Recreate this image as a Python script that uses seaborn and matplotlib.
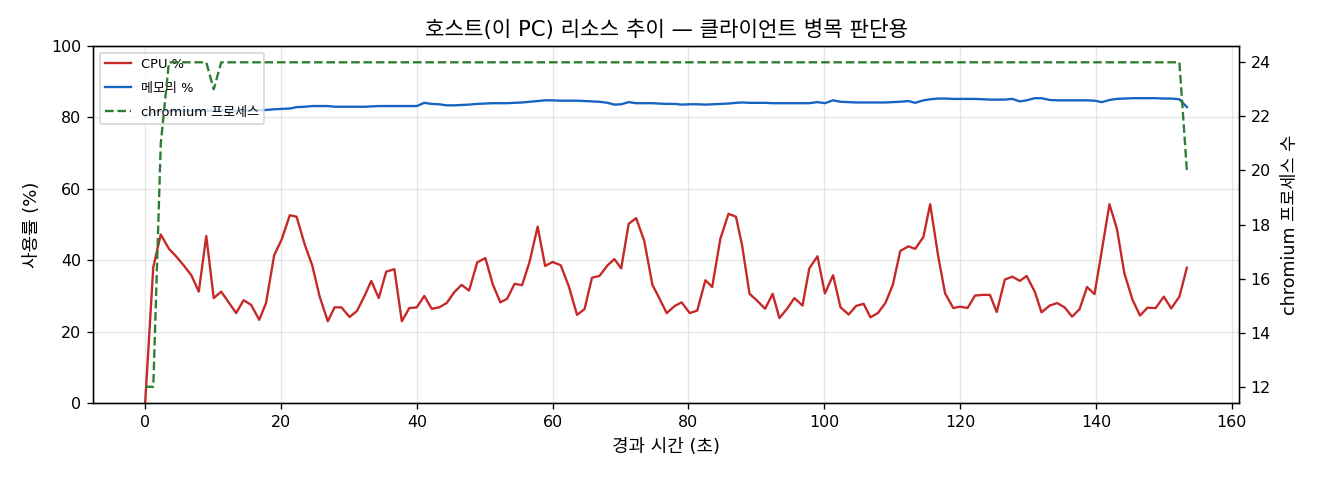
import matplotlib
matplotlib.use("Agg")
import matplotlib.pyplot as plt
import seaborn as sns
import pandas as pd

# ---- data ----
elapsed_s = [
    0.0, 1.2, 2.3, 3.5, 4.6, 5.7, 6.8, 7.9, 9.0, 10.1,
    11.2, 12.3, 13.4, 14.5, 15.6, 16.8, 17.8, 19.0, 20.1, 21.3,
    22.3, 23.5, 24.6, 25.7, 26.9, 27.9, 28.9, 30.1, 31.2, 32.3,
    33.3, 34.4, 35.5, 36.7, 37.8, 38.9, 40.0, 41.1, 42.2, 43.3,
    44.4, 45.5, 46.6, 47.7, 48.9, 50.1, 51.2, 52.3, 53.3, 54.4,
    55.5, 56.6, 57.8, 58.9, 60.0, 61.2, 62.4, 63.6, 64.7, 65.8,
    66.9, 68.1, 69.1, 70.1, 71.2, 72.3, 73.5, 74.7, 75.6, 76.8,
    78.0, 79.0, 80.2, 81.3, 82.5, 83.5, 84.7, 85.9, 87.0, 87.9,
    89.0, 90.1, 91.3, 92.4, 93.4, 94.6, 95.6, 96.8, 97.8, 99.0,
    100.1, 101.3, 102.4, 103.6, 104.7, 105.8, 106.8, 107.9, 109.0, 110.1,
    111.2, 112.4, 113.4, 114.6, 115.6, 116.8, 117.8, 119.0, 120.0, 121.1,
    122.2, 123.4, 124.4, 125.4, 126.6, 127.7, 128.8, 129.8, 131.0, 132.0,
    133.2, 134.3, 135.4, 136.5, 137.6, 138.7, 139.8, 140.9, 142.0, 143.1,
    144.2, 145.4, 146.5, 147.6, 148.8, 150.0, 151.1, 152.3, 153.4,
]

cpu_pct = [
    0.0, 38.1, 47.2, 43.2, 41.0, 38.5, 35.8, 31.2, 46.8, 29.4,
    31.2, 28.2, 25.2, 28.8, 27.5, 23.3, 28.0, 41.4, 45.8, 52.6,
    52.2, 44.4, 38.6, 29.8, 22.9, 26.8, 26.8, 24.1, 25.8, 30.0,
    34.2, 29.4, 36.8, 37.5, 22.9, 26.6, 26.8, 30.0, 26.4, 26.8,
    28.0, 31.0, 33.1, 31.5, 39.4, 40.6, 33.2, 28.2, 29.2, 33.4,
    33.0, 39.5, 49.4, 38.4, 39.5, 38.6, 32.6, 24.7, 26.3, 35.1,
    35.6, 38.6, 40.3, 37.7, 50.2, 51.8, 45.4, 33.1, 29.8, 25.2,
    27.2, 28.2, 25.2, 25.9, 34.4, 32.5, 46.0, 53.0, 52.2, 44.2,
    30.6, 28.7, 26.4, 30.6, 23.8, 26.6, 29.4, 27.3, 37.7, 41.1,
    30.7, 35.8, 26.8, 24.8, 27.2, 27.8, 24.0, 25.2, 28.0, 33.1,
    42.6, 43.9, 43.2, 46.5, 55.7, 40.9, 30.7, 26.6, 27.0, 26.6,
    30.1, 30.3, 30.3, 25.5, 34.6, 35.4, 34.2, 35.6, 31.2, 25.4,
    27.3, 28.0, 26.8, 24.2, 26.3, 32.5, 30.5, 43.0, 55.7, 48.8,
    36.3, 28.9, 24.5, 26.7, 26.6, 29.8, 26.5, 29.8, 37.9,
]

mem_pct = [
    80.4, 81.6, 81.8, 81.8, 81.9, 81.9, 81.9, 81.9, 81.9, 81.9,
    82.0, 81.9, 81.9, 81.9, 82.0, 82.0, 82.1, 82.3, 82.4, 82.5,
    82.9, 83.0, 83.2, 83.2, 83.2, 83.0, 83.0, 83.0, 83.0, 83.0,
    83.1, 83.2, 83.2, 83.2, 83.2, 83.2, 83.2, 84.1, 83.8, 83.7,
    83.4, 83.4, 83.5, 83.6, 83.8, 83.9, 84.0, 84.0, 84.0, 84.1,
    84.2, 84.4, 84.6, 84.8, 84.8, 84.7, 84.7, 84.7, 84.6, 84.5,
    84.4, 84.1, 83.6, 83.7, 84.3, 84.0, 84.0, 84.0, 83.9, 83.8,
    83.8, 83.6, 83.7, 83.7, 83.6, 83.7, 83.8, 83.9, 84.1, 84.2,
    84.1, 84.1, 84.1, 84.0, 84.0, 84.0, 84.0, 84.0, 84.0, 84.3,
    84.0, 84.8, 84.4, 84.3, 84.2, 84.2, 84.2, 84.2, 84.2, 84.3,
    84.4, 84.6, 84.1, 84.8, 85.1, 85.3, 85.3, 85.2, 85.2, 85.2,
    85.2, 85.1, 85.0, 85.0, 85.0, 85.2, 84.5, 84.8, 85.4, 85.4,
    84.9, 84.8, 84.8, 84.8, 84.8, 84.8, 84.7, 84.3, 84.9, 85.2,
    85.3, 85.4, 85.4, 85.4, 85.4, 85.3, 85.3, 85.1, 82.9,
]

chromium_procs = [
    12, 12, 21, 24, 24, 24, 24, 24, 24, 23,
    24, 24, 24, 24, 24, 24, 24, 24, 24, 24,
    24, 24, 24, 24, 24, 24, 24, 24, 24, 24,
    24, 24, 24, 24, 24, 24, 24, 24, 24, 24,
    24, 24, 24, 24, 24, 24, 24, 24, 24, 24,
    24, 24, 24, 24, 24, 24, 24, 24, 24, 24,
    24, 24, 24, 24, 24, 24, 24, 24, 24, 24,
    24, 24, 24, 24, 24, 24, 24, 24, 24, 24,
    24, 24, 24, 24, 24, 24, 24, 24, 24, 24,
    24, 24, 24, 24, 24, 24, 24, 24, 24, 24,
    24, 24, 24, 24, 24, 24, 24, 24, 24, 24,
    24, 24, 24, 24, 24, 24, 24, 24, 24, 24,
    24, 24, 24, 24, 24, 24, 24, 24, 24, 24,
    24, 24, 24, 24, 24, 24, 24, 24, 20,
]

series_labels = ["CPU %", "메모리 %", "chromium 프로세스"]
title_text = "호스트(이 PC) 리소스 추이 — 클라이언트 병목 판단용"
xlabel_text = "경과 시간 (초)"
ylabel_left = "사용률 (%)"
ylabel_right = "chromium 프로세스 수"

df = pd.DataFrame({"t": elapsed_s, "cpu": cpu_pct, "mem": mem_pct, "proc": chromium_procs})

plt.rcParams["font.family"] = ["DejaVu Sans", "Noto Sans CJK KR"]
plt.rcParams["axes.unicode_minus"] = False

fig, ax = plt.subplots(figsize=(11, 4), dpi=120)
fig.subplots_adjust(left=0.0705, right=0.9386, top=0.904, bottom=0.1604)

sns.lineplot(data=df, x="t", y="cpu", ax=ax, color="#c62828", lw=1.4,
             label=series_labels[0], legend=False)
sns.lineplot(data=df, x="t", y="mem", ax=ax, color="#1565c0", lw=1.4,
             label=series_labels[1], legend=False)
ax2 = ax.twinx()
sns.lineplot(data=df, x="t", y="proc", ax=ax2, color="#2e7d32", lw=1.4,
             linestyle="--", label=series_labels[2], legend=False)

ax.set_ylim(0, 100)
ax.set_xticks([0, 20, 40, 60, 80, 100, 120, 140, 160])
ax.grid(True, alpha=0.3)
ax.set_title(title_text, fontsize=12.7, pad=6)
ax.set_xlabel(xlabel_text, fontsize=10.8, labelpad=5)
ax.set_ylabel(ylabel_left, fontsize=10.8, labelpad=6)
ax2.set_ylabel(ylabel_right, fontsize=10.5, labelpad=6)
ax.tick_params(labelsize=9.5)
ax2.tick_params(labelsize=9.5)

h1, l1 = ax.get_legend_handles_labels()
h2, l2 = ax2.get_legend_handles_labels()
ax.legend(h1 + h2, l1 + l2, loc="upper left", fontsize=7.8, labelspacing=0.85)

fig.savefig("out.png", dpi=120)
